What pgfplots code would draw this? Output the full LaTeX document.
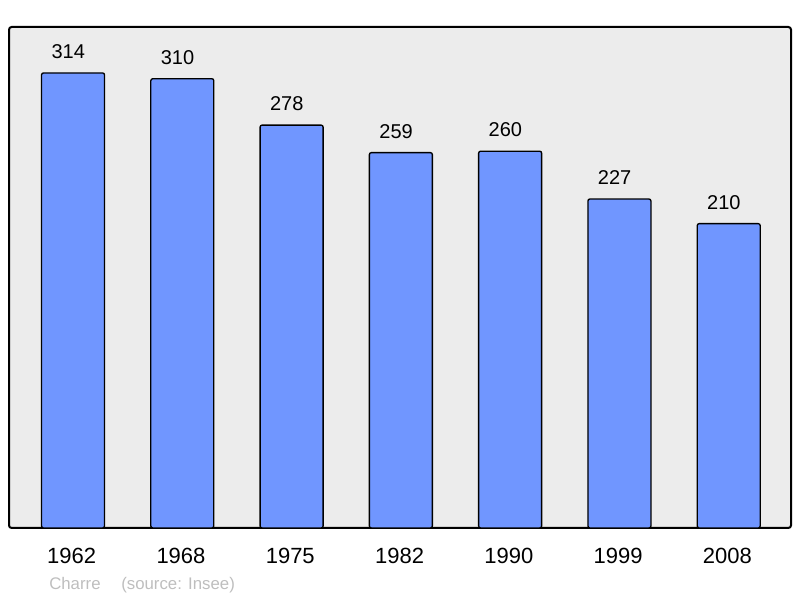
\documentclass[border=0pt]{standalone}
\usepackage{fontspec}
\setmainfont{Liberation Sans}
\usepackage{pgfplots}
\pgfplotsset{compat=1.18}
\definecolor{barblue}{RGB}{112,150,255}
\definecolor{panel}{RGB}{236,236,236}
\definecolor{srcgray}{RGB}{190,190,190}

\begin{document}
\begin{tikzpicture}
% page 800x598 px, 1px = 0.75pt
\path[use as bounding box] (0,0) rectangle (600pt,448.5pt);

\begin{axis}[
    at={(6.75pt,52.5pt)},
    anchor=south west,
    scale only axis,
    width=586.5pt,
    height=375.75pt,
    xmin=-0.586, xmax=6.57,
    ymin=0, ymax=345.7,
    axis background/.style={fill=panel},
    axis line style={line width=1.5pt, rounded corners=2pt},
    xtick=data,
    xticklabels={1962,1968,1975,1982,1990,1999,2008},
    ytick=\empty,
    major tick length=0pt,
    xticklabel style={font=\fontsize{16.5pt}{18pt}\selectfont, anchor=center,
        yshift=-21.2pt, xshift=-1pt},
    /pgf/number format/assume math mode=true,
    nodes near coords,
    nodes near coords style={font=\fontsize{15pt}{17pt}\selectfont, anchor=center,
        yshift=15.9pt, xshift=-3.6pt},
]
\addplot[ybar, bar width=47.25pt, fill=barblue, draw=black, line width=1pt,
    rounded corners=1.5pt] coordinates {
    (0,314) (1,310) (2,278) (3,259) (4,260) (5,227) (6,210)
};
\end{axis}

\node[anchor=base west, text=srcgray, inner sep=0pt,
      font=\fontsize{12.6pt}{14pt}\selectfont] at (36.75pt,6pt)
    {Charre\hspace{15.5pt}(source: Insee)};
\end{tikzpicture}
\end{document}
